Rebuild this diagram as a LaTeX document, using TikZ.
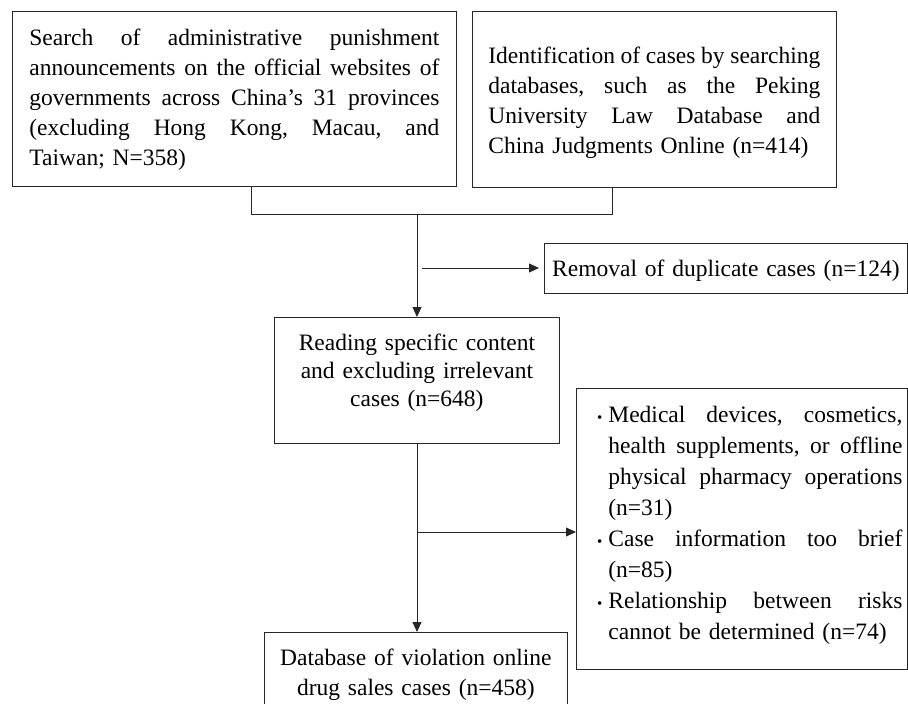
\documentclass[tikz,border=0pt]{standalone}
\usepackage{fontspec}
\setmainfont{Liberation Serif}
\usepackage{tikz}
\usetikzlibrary{arrows.meta}

\newcommand{\jline}[2][\linewidth]{\leavevmode\hbox to #1{\frenchspacing\spaceskip=0.25em plus 1fil minus 0.15em\relax #2}}
\newcommand{\bitem}{\hspace*{32pt}\llap{{\fontsize{15}{15}\selectfont\textbullet}\hspace{6pt}}}
\newcommand{\bcont}{\hspace*{32pt}}

\begin{document}
\begin{tikzpicture}[x=1pt,y=-1pt,>={Triangle[length=10pt,width=9pt]},
  box/.style={draw=black!85,line width=0.8pt,inner ysep=0pt,anchor=north west,
    font=\fontsize{23.5}{30}\selectfont},
  link/.style={draw=black!85,line width=0.8pt}]
  \useasboundingbox (0,0) rectangle (908,704);
  \clip (0,0) rectangle (908,704);
  % sources
  \node[box,align=left,text width=410pt,inner xsep=17pt,text height=34pt,text depth=141pt]
    (search) at (12,11) {\jline[410pt]{Search of administrative punishment}\\
      \jline[410pt]{announcements on the official websites of}\\
      \jline[410pt]{governments across China’s 31 provinces}\\
      \jline[410pt]{(excluding Hong Kong, Macau, and}\\
      Taiwan; N=358)};
  \node[box,align=left,text width=332pt,inner xsep=16pt,text height=52pt,text depth=124pt]
    (ident) at (472,11) {\jline[332pt]{Identification of cases by searching}\\
      \jline[332pt]{databases, such as the Peking}\\
      \jline[332pt]{University Law Database and}\\
      China Judgments Online (n=414)};
  % screening
  \node[box,align=center,text width=363pt,inner xsep=0pt,text height=33pt,text depth=17pt]
    (removal) at (544,243) {Removal of duplicate cases (n=124)};
  \node[box,align=center,text width=285pt,inner xsep=0pt,text height=33pt,text depth=93pt,
    font=\fontsize{23.5}{28}\selectfont]
    (reading) at (274,317) {Reading specific content\\and excluding irrelevant\\cases (n=648)};
  \node[box,align=left,text width=331pt,inner xsep=0pt,text height=34pt,text depth=247pt,
    font=\fontsize{23.5}{31}\selectfont]
    (excluded) at (576,388) {\bitem\jline[294pt]{Medical devices, cosmetics,}\\
      \bcont\jline[294pt]{health supplements, or offline}\\
      \bcont\jline[294pt]{physical pharmacy operations}\\
      \bcont(n=31)\\
      \bitem\jline[294pt]{Case information too brief}\\
      \bcont(n=85)\\
      \bitem\jline[294pt]{Relationship between risks}\\
      \bcont cannot be determined (n=74)};
  \node[box,align=center,text width=303pt,inner xsep=0pt,text height=33pt,text depth=55pt]
    (dbase) at (264,632) {Database of violation online\\drug sales cases (n=458)};
  % connectors
  \coordinate (jl) at (251,214);
  \coordinate (jr) at (612,214);
  \coordinate (jm) at (417,214);
  \coordinate (dup) at (422,268);
  \coordinate (excl) at (417,532);
  \draw[link] (search.south -| jl) -- (jl) -- (jr) -- (ident.south -| jr);
  \draw[link,->] (jm) -- (reading.north -| jm);
  \draw[link,->,shorten >=5pt] (dup) -- (removal.west |- dup);
  \draw[link,->] (reading.south -| jm) -- (dbase.north -| jm);
  \draw[link,->] (excl) -- (excluded.west |- excl);
\end{tikzpicture}
\end{document}
